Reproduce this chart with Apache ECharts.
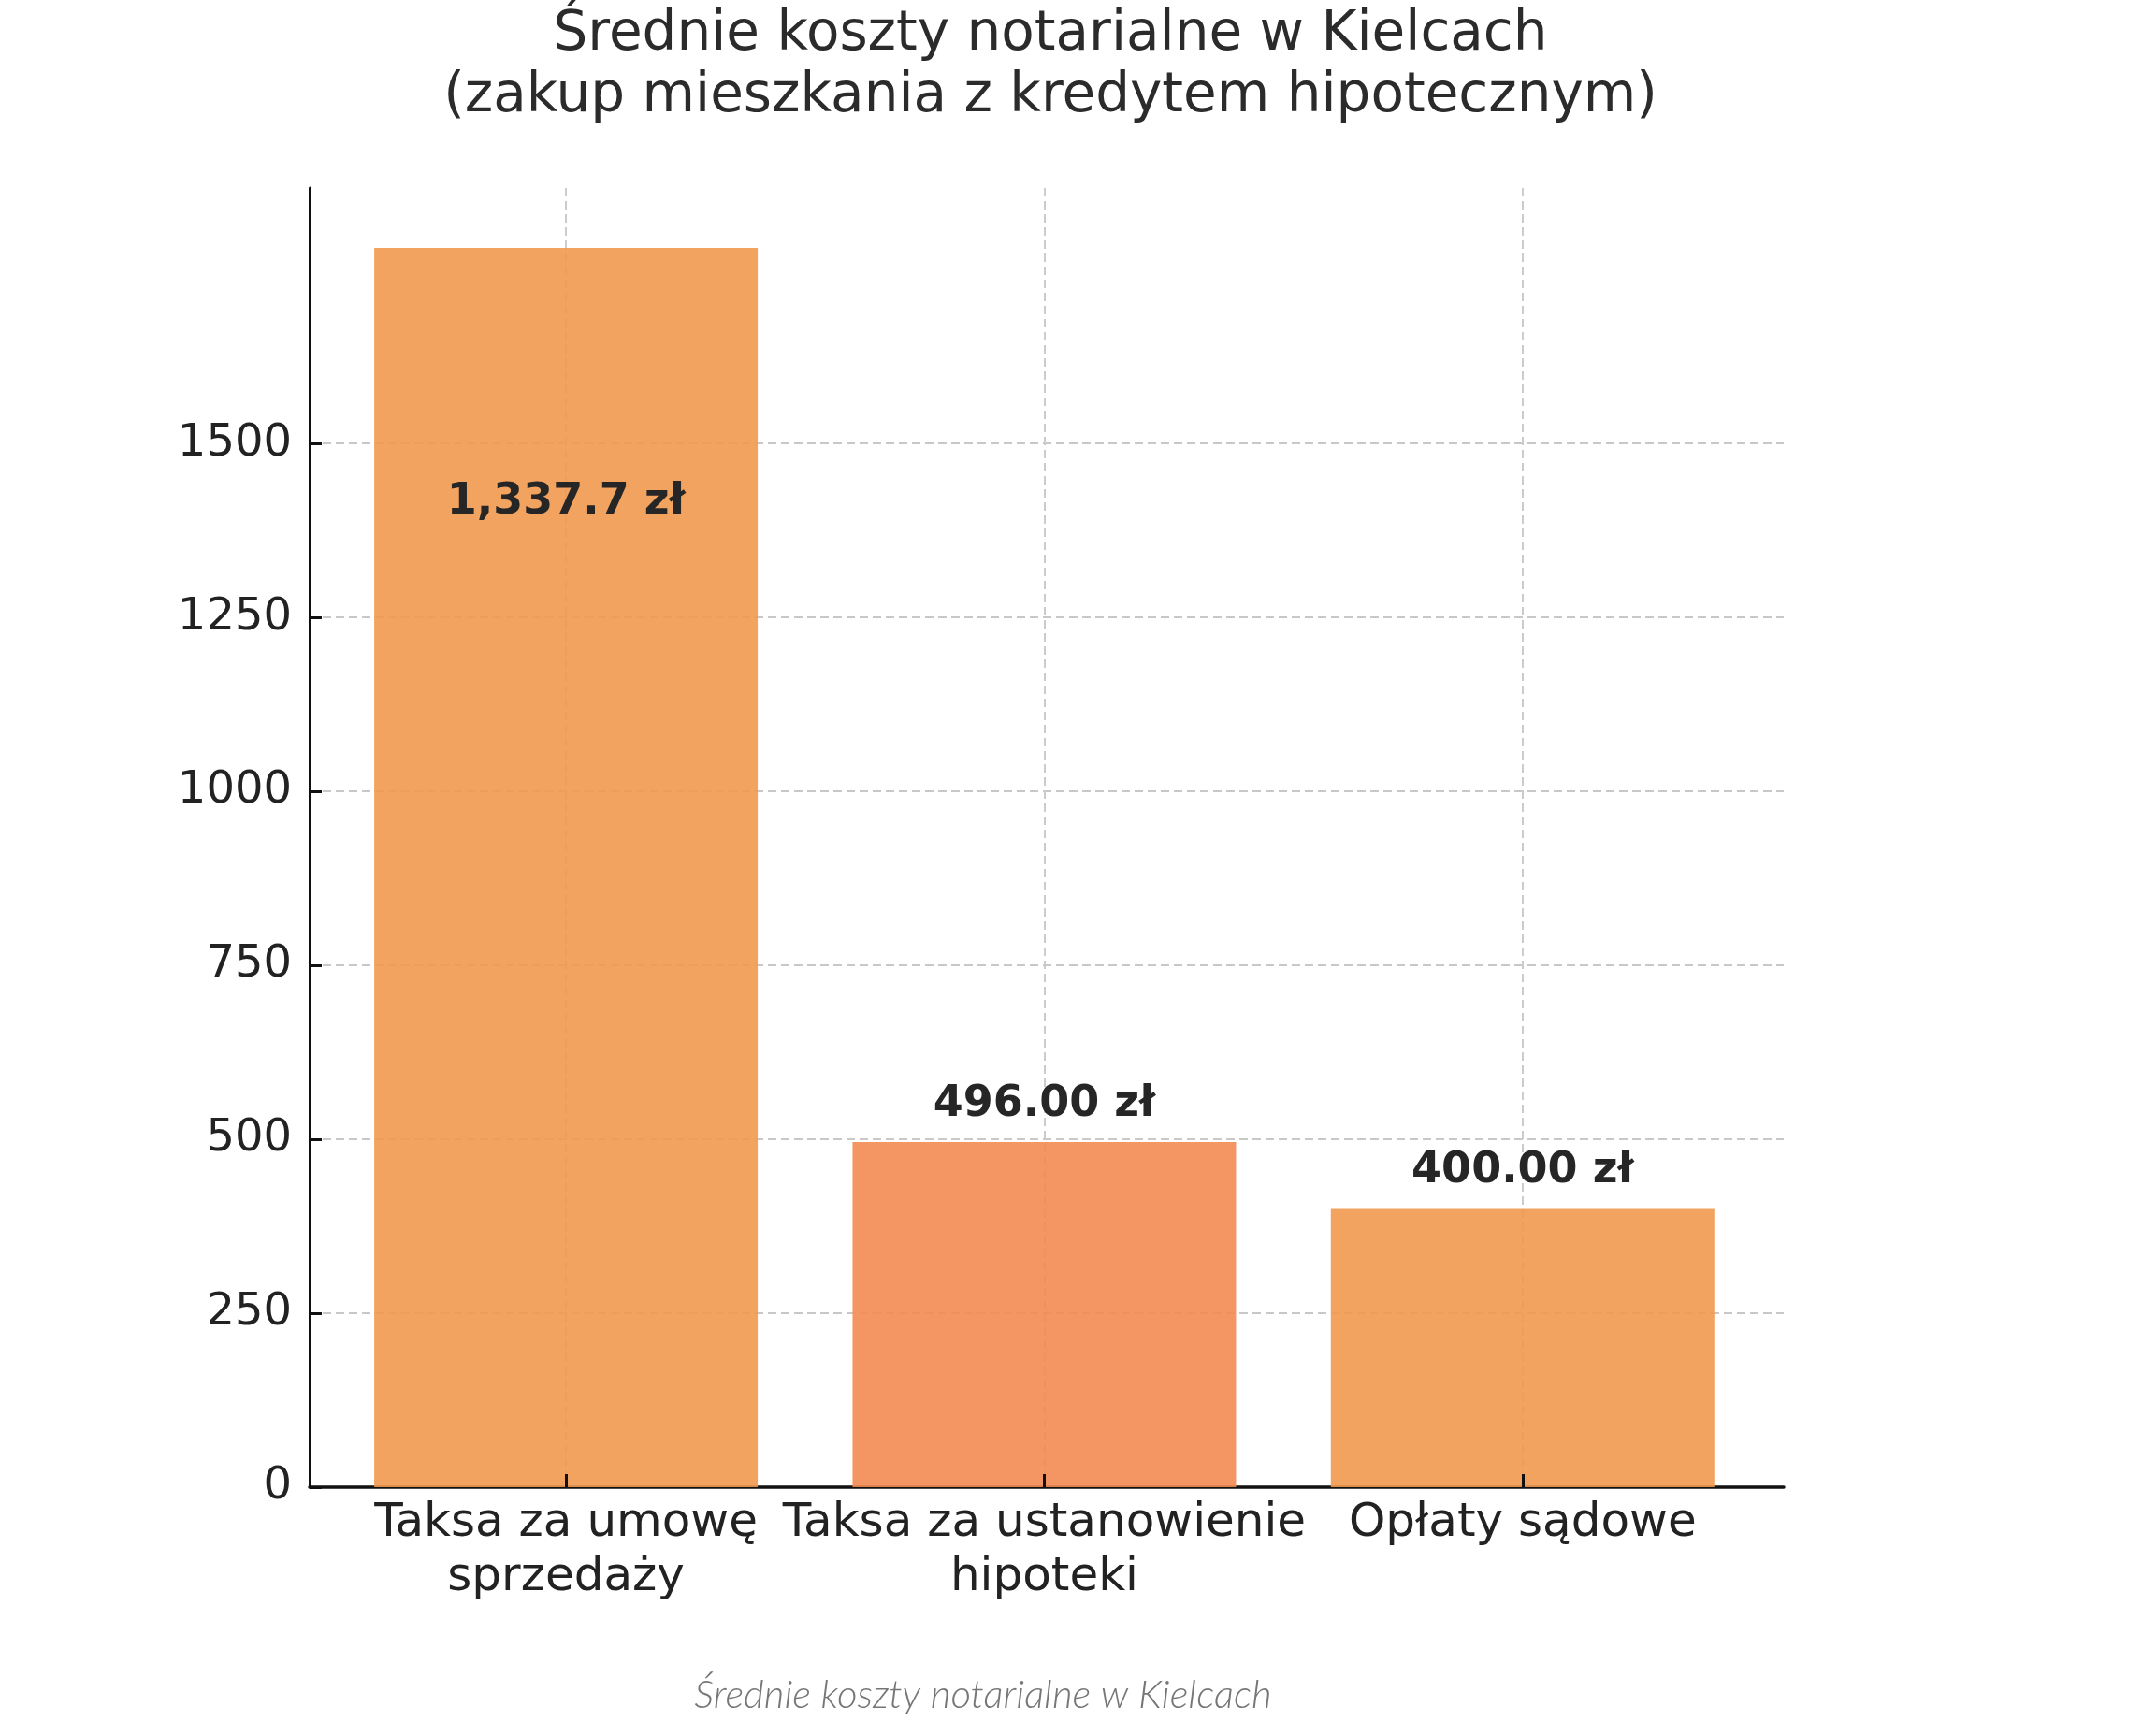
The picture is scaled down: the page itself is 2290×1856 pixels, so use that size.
<!DOCTYPE html>
<html>
<head>
<meta charset="utf-8">
<script src="https://cdn.jsdelivr.net/npm/echarts@6/dist/echarts.min.js"></script>
<style>
html,body{margin:0;padding:0;background:#fff;}
#chart{width:2290px;height:1856px;}
</style>
</head>
<body>
<div id="chart"></div>
<script>
// ---- data ----
const categories = ['Taksa za umowę\nsprzedaży', 'Taksa za ustanowienie\nhipoteki', 'Opłaty sądowe'];
const values = [1781, 496, 400];
const labelTexts = ['1,337.7 zł', '496.00 zł', '400.00 zł'];
const yTicks = [0, 250, 500, 750, 1000, 1250, 1500];
const titleLines = ['Średnie koszty notarialne w Kielcach', '(zakup mieszkania z kredytem hipotecznym)'];
const caption = 'Średnie koszty notarialne w Kielcach';

// ---- styles ----
const barColors = ['rgba(242,153,79,0.9)', 'rgba(243,137,83,0.9)', 'rgba(242,153,79,0.9)'];
const FONT = 'DejaVu Sans';

const chart = echarts.init(document.getElementById('chart'), null, {renderer: 'canvas'});

const xIdx = categories.map((c, i) => i);
const seriesData = values.map((v, i) => {
  const item = {
    value: [i, v],
    itemStyle: {color: barColors[i]},
    label: {formatter: labelTexts[i]}
  };
  if (i === 0) {
    item.label.position = ['50%', 272];
    item.label.align = 'center';
    item.label.verticalAlign = 'middle';
  }
  return item;
});

const X_MIN = -0.536, X_MAX = 2.546;

const option = {
  backgroundColor: '#ffffff',
  animation: false,
  grid: {left: 331, right: 383, top: 201, bottom: 266, containLabel: false},
  graphic: [
    {type: 'text', x: 1123, y: 5, z: 10,
     style: {text: titleLines.join('\n'), font: '58px "DejaVu Sans"', fill: '#2b2b2b',
             textAlign: 'center', lineHeight: 66}},
    {type: 'text', x: 1051, y: 1812, z: 10,
     style: {text: caption, font: 'italic 300 42px Lato', fill: '#767676',
             textAlign: 'center', textVerticalAlign: 'middle'}}
  ],
  xAxis: [{
    type: 'value',
    min: X_MIN,
    max: X_MAX,
    axisLine: {show: true, onZero: false, lineStyle: {color: '#111111', width: 3.5}},
    axisTick: {show: false, customValues: xIdx},
    axisLabel: {show: true, customValues: xIdx, margin: 10,
                formatter: v => categories[Math.round(v)] || '',
                fontFamily: FONT, fontSize: 50, lineHeight: 58, color: '#222222', align: 'center'},
    splitLine: {show: true, lineStyle: {color: '#cccccc', width: 2, type: [9, 5]}}
  }, {
    type: 'value',
    position: 'bottom',
    min: X_MIN,
    max: X_MAX,
    z: 5,
    axisLine: {show: false, onZero: false},
    axisTick: {show: true, inside: true, length: 14, customValues: xIdx,
               lineStyle: {color: '#111111', width: 3}},
    axisLabel: {show: false},
    splitLine: {show: false}
  }],
  yAxis: {
    type: 'value',
    min: 0,
    max: 1867,
    axisLine: {show: true, onZero: false, lineStyle: {color: '#111111', width: 3}},
    axisTick: {show: true, inside: true, length: 13, customValues: yTicks,
               lineStyle: {color: '#111111', width: 3}},
    axisLabel: {show: true, customValues: yTicks, margin: 19,
                formatter: v => String(v),
                fontFamily: FONT, fontSize: 48, color: '#222222'},
    splitLine: {show: true, lineStyle: {color: '#c8c8c8', width: 2, type: [9, 5]}}
  },
  series: [{
    type: 'bar',
    xAxisIndex: 0,
    barWidth: 410,
    data: seriesData,
    label: {
      show: true,
      position: 'top',
      distance: 17,
      fontFamily: FONT,
      fontWeight: 'bold',
      fontSize: 46,
      color: '#262626'
    }
  }]
};
chart.setOption(option);
</script>
</body>
</html>
